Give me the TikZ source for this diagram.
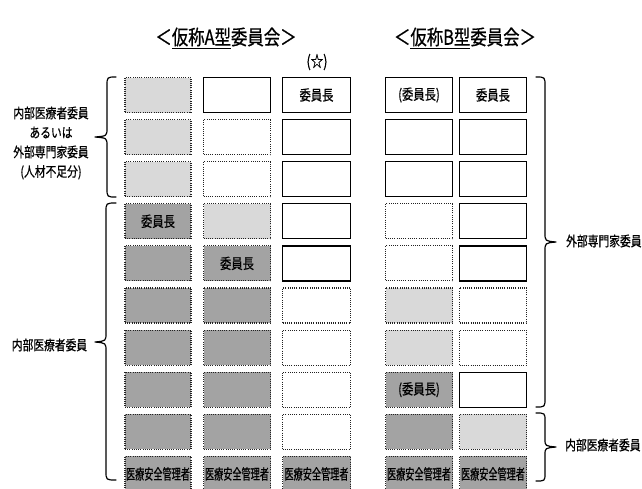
\documentclass[tikz,border=0pt]{standalone}
\usepackage{fontspec}
\newfontfamily\jp[FakeStretch=0.78,FakeBold=0.6]{Noto Sans CJK JP}
\newfontfamily\jpt[FakeStretch=0.8,FakeBold=0.6]{Noto Sans CJK JP}
\newfontfamily\jpn[FakeStretch=0.63,FakeBold=0.6]{Noto Sans CJK JP}
\definecolor{lightfill}{HTML}{D9D9D9}
\definecolor{darkfill}{HTML}{A3A3A3}
\definecolor{dotline}{HTML}{222222}
\tikzset{
  solidbox/.style={draw=black, line width=1.3pt, fill=white, inner sep=0pt},
  dotbox/.style={draw=dotline, line width=1.1pt, dash pattern=on 1pt off 1.2pt, fill=white, inner sep=0pt},
  lightbox/.style={dotbox, fill=lightfill},
  darkbox/.style={dotbox, fill=darkfill},
  boxtext/.style={font=\jp\fontsize{14.5}{16}\selectfont},
  mgrtext/.style={font=\jpn\fontsize{14.5}{16}\selectfont},
  sidetext/.style={font=\jp\fontsize{13.8}{19.5}\selectfont, align=center, inner sep=0pt},
  titletext/.style={font=\jpt\fontsize{20.5}{22}\selectfont, inner sep=0pt},
  bracepath/.style={draw=black, line width=1.2pt, line cap=round, line join=round}
}
\newcommand\cellbox[6]{\node[#2, minimum width=#4pt, minimum height=35pt] (#1) at (#3, {95+42.1*(#5-1)}) {#6};}
\begin{document}
\begin{tikzpicture}[x=1pt,y=-1pt]
\useasboundingbox[fill=white] (0,0) rectangle (642,488);
% titles
\node[titletext] (titleA) at (226,38) {＜\underline{仮称A型}委員会＞};
\node[titletext] (titleB) at (465,38) {＜\underline{仮称B型}委員会＞};
\node[boxtext, font=\jp\fontsize{16}{18}\selectfont] (star) at (317,62) {(☆)};
% column A1
\cellbox{a1r1}{lightbox}{158}{66}{1}{}
\cellbox{a1r2}{lightbox}{158}{66}{2}{}
\cellbox{a1r3}{lightbox}{158}{66}{3}{}
\cellbox{a1r4}{darkbox,boxtext}{158}{66}{4}{委員長}
\cellbox{a1r5}{darkbox}{158}{66}{5}{}
\cellbox{a1r6}{darkbox}{158}{66}{6}{}
\cellbox{a1r7}{darkbox}{158}{66}{7}{}
\cellbox{a1r8}{darkbox}{158}{66}{8}{}
\cellbox{a1r9}{darkbox}{158}{66}{9}{}
\cellbox{a1r10}{darkbox,mgrtext}{158}{66}{10}{医療安全管理者}
% column A2
\cellbox{a2r1}{solidbox}{237}{67}{1}{}
\cellbox{a2r2}{dotbox}{237}{67}{2}{}
\cellbox{a2r3}{dotbox}{237}{67}{3}{}
\cellbox{a2r4}{lightbox}{237}{67}{4}{}
\cellbox{a2r5}{darkbox,boxtext}{237}{67}{5}{委員長}
\cellbox{a2r6}{darkbox}{237}{67}{6}{}
\cellbox{a2r7}{darkbox}{237}{67}{7}{}
\cellbox{a2r8}{darkbox}{237}{67}{8}{}
\cellbox{a2r9}{darkbox}{237}{67}{9}{}
\cellbox{a2r10}{darkbox,mgrtext}{237}{67}{10}{医療安全管理者}
% column A3
\cellbox{a3r1}{solidbox,boxtext}{316.5}{68}{1}{委員長}
\cellbox{a3r2}{solidbox}{316.5}{68}{2}{}
\cellbox{a3r3}{solidbox}{316.5}{68}{3}{}
\cellbox{a3r4}{solidbox}{316.5}{68}{4}{}
\cellbox{a3r5}{solidbox}{316.5}{68}{5}{}
\cellbox{a3r6}{dotbox}{316.5}{68}{6}{}
\cellbox{a3r7}{dotbox}{316.5}{68}{7}{}
\cellbox{a3r8}{dotbox}{316.5}{68}{8}{}
\cellbox{a3r9}{dotbox}{316.5}{68}{9}{}
\cellbox{a3r10}{darkbox,mgrtext}{316.5}{68}{10}{医療安全管理者}
% column B1
\cellbox{b1r1}{solidbox,boxtext}{419}{67}{1}{(委員長)}
\cellbox{b1r2}{solidbox}{419}{67}{2}{}
\cellbox{b1r3}{solidbox}{419}{67}{3}{}
\cellbox{b1r4}{dotbox}{419}{67}{4}{}
\cellbox{b1r5}{dotbox}{419}{67}{5}{}
\cellbox{b1r6}{lightbox}{419}{67}{6}{}
\cellbox{b1r7}{lightbox}{419}{67}{7}{}
\cellbox{b1r8}{darkbox,boxtext}{419}{67}{8}{(委員長)}
\cellbox{b1r9}{darkbox}{419}{67}{9}{}
\cellbox{b1r10}{darkbox,mgrtext}{419}{67}{10}{医療安全管理者}
% column B2
\cellbox{b2r1}{solidbox,boxtext}{493}{67}{1}{委員長}
\cellbox{b2r2}{solidbox}{493}{67}{2}{}
\cellbox{b2r3}{solidbox}{493}{67}{3}{}
\cellbox{b2r4}{solidbox}{493}{67}{4}{}
\cellbox{b2r5}{solidbox}{493}{67}{5}{}
\cellbox{b2r6}{dotbox}{493}{67}{6}{}
\cellbox{b2r7}{dotbox}{493}{67}{7}{}
\cellbox{b2r8}{solidbox}{493}{67}{8}{}
\cellbox{b2r9}{lightbox}{493}{67}{9}{}
\cellbox{b2r10}{darkbox,mgrtext}{493}{67}{10}{医療安全管理者}
% left braces
\draw[bracepath] (116,77) .. controls (107,77) .. (107,86) -- (107,128)
  .. controls (107,136) .. (95,137) .. controls (107,138) .. (107,146) -- (107,188)
  .. controls (107,197) .. (116,197);
\draw[bracepath] (116,203) .. controls (106,203) .. (106,212) -- (106,333)
  .. controls (106,341) .. (95,342) .. controls (106,343) .. (106,351) -- (106,471)
  .. controls (106,480) .. (116,480);
% right braces
\draw[bracepath] (536,77) .. controls (545,77) .. (545,86) -- (545,233)
  .. controls (545,241) .. (556,242) .. controls (545,243) .. (545,251) -- (545,398)
  .. controls (545,407) .. (536,407);
\draw[bracepath] (536,413) .. controls (545,413) .. (545,421) -- (545,439)
  .. controls (545,446) .. (556,447) .. controls (545,448) .. (545,455) -- (545,473)
  .. controls (545,481) .. (536,481);
% side labels
\node[sidetext] (lblup) at (51,143) {内部医療者委員\\あるいは\\外部専門家委員\\(人材不足分)};
\node[sidetext] (lbllow) at (49.5,345) {内部医療者委員};
\node[sidetext, anchor=west] (lblext) at (566,241) {外部専門家委員};
\node[sidetext, anchor=west] (lblint) at (565,445) {内部医療者委員};
\end{tikzpicture}
\end{document}
